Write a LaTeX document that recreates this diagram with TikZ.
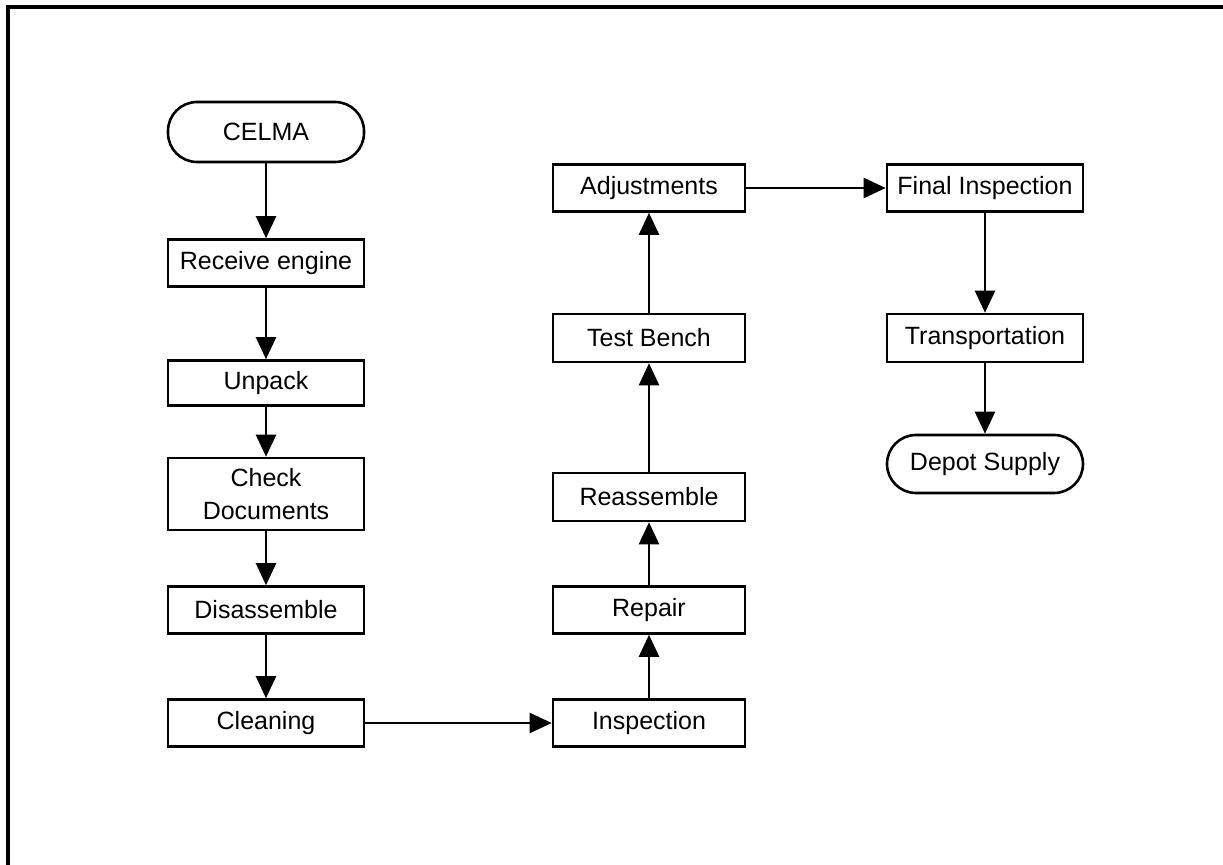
\documentclass[tikz,border=0pt]{standalone}
\usepackage{fontspec}
\setmainfont{Liberation Sans}
\usetikzlibrary{arrows.meta}
\begin{document}
\begin{tikzpicture}[x=0.5pt,y=-0.5pt,
  font=\fontsize{12.5}{16.5}\selectfont,
  box/.style={draw, line width=1.3pt, minimum width=98pt, minimum height=23.5pt, inner sep=0pt, align=center},
  term/.style={box, rounded corners=14.5pt, minimum height=30pt},
  flow/.style={line width=1.2pt, -{Triangle[length=11pt,width=10pt]}}]
\useasboundingbox (0,0) rectangle (1223,865);
\draw[line width=1.8pt] (8,865) -- (8,7) -- (1223,7);
% left column
\node[term] (celma) at (266,132) {CELMA};
\node[box] (recv) at (266,263) {Receive engine};
\node[box, minimum height=22.5pt] (unpack) at (266,383) {Unpack};
\node[box, minimum height=36pt] (check) at (266,494) {Check\\Documents};
\node[box] (disas) at (266,610) {Disassemble};
\node[box] (clean) at (266,723) {Cleaning};
% middle column
\node[box, minimum width=96pt] (insp) at (649,723) {Inspection};
\node[box, minimum width=96pt] (repair) at (649,610) {Repair};
\node[box, minimum width=96pt, minimum height=24pt] (reas) at (649,497) {Reassemble};
\node[box, minimum width=96pt, minimum height=24pt] (test) at (649,338) {Test Bench};
\node[box, minimum width=96pt] (adj) at (649,188) {Adjustments};
% right column
\node[box] (final) at (985,188) {Final Inspection};
\node[box, minimum height=24pt] (trans) at (985,338) {Transportation};
\node[term, minimum height=29pt] (depot) at (985,464) {Depot Supply};
% connectors
\draw[flow] (celma) -- (recv);
\draw[flow] (recv) -- (unpack);
\draw[flow] (unpack) -- (check);
\draw[flow] (check) -- (disas);
\draw[flow] (disas) -- (clean);
\draw[flow] (clean) -- (insp);
\draw[flow] (insp) -- (repair);
\draw[flow] (repair) -- (reas);
\draw[flow] (reas) -- (test);
\draw[flow] (test) -- (adj);
\draw[flow] (adj) -- (final);
\draw[flow] (final) -- (trans);
\draw[flow] (trans) -- (depot);
\end{tikzpicture}
\end{document}
